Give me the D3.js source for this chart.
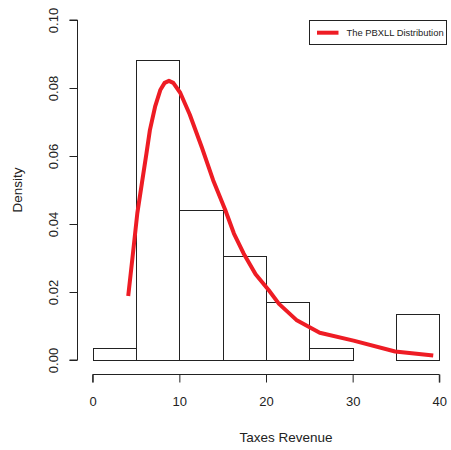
<!DOCTYPE html>
<html>
<head>
<meta charset="utf-8">
<script src="https://cdn.jsdelivr.net/npm/d3@7/dist/d3.min.js"></script>
<style>
  html, body { margin: 0; padding: 0; background: #fff; }
  svg { display: block; font-family: "Liberation Sans", Arial, sans-serif; }
</style>
</head>
<body>
<svg id="chart" width="451" height="450"></svg>
<script>
// Histogram of taxes revenue (bin width 5) with the fitted PBXLL density
const binEdges = [0, 5, 10, 15, 20, 25, 30, 35, 40];
const binCounts = [1, 26, 13, 9, 5, 1, 0, 4];
const totalCount = 59;

// Fitted PBXLL density evaluated at the sorted observations
const curveX = [4.1, 4.6, 5.15, 5.7, 6.2, 6.6, 7.2, 7.8, 8.3, 8.8, 9.3, 10.1, 11.2, 12.6, 13.9, 15.3, 16.3, 17.4, 18.8, 20.3, 21.5, 23.5, 26.2, 30.1, 34.9, 39.3];
const curveY = [0.0188, 0.0303, 0.0432, 0.0524, 0.0607, 0.0676, 0.0745, 0.0794, 0.0815, 0.0821, 0.0815, 0.0786, 0.0722, 0.0625, 0.0529, 0.0441, 0.0372, 0.0314, 0.0252, 0.0206, 0.0165, 0.0118, 0.0080, 0.0057, 0.0025, 0.0013];

const xTicks = [0, 10, 20, 30, 40];
const yTicks = [0, 0.02, 0.04, 0.06, 0.08, 0.10];
const legendLabel = "The PBXLL Distribution";
const xTitle = "Taxes Revenue";
const yTitle = "Density";

const svg = d3.select("#chart");
const ink = "#222";

const x = d3.scaleLinear().domain([0, 40]).range([92.7, 439.3]);
const y = d3.scaleLinear().domain([0, 0.1]).range([360, 20]);

const bins = binCounts.map((c, i) => ({
  x0: binEdges[i], x1: binEdges[i + 1], density: c / (totalCount * (binEdges[i + 1] - binEdges[i]))
}));

// bars
svg.append("g").selectAll("rect").data(bins).join("rect")
  .attr("x", d => x(d.x0) + 0.5)
  .attr("y", d => y(d.density) + 0.5)
  .attr("width", d => x(d.x1) - x(d.x0))
  .attr("height", d => y(0) - y(d.density))
  .attr("fill", "none")
  .attr("stroke", ink)
  .attr("stroke-width", 1)
  .style("shape-rendering", "crispEdges");

// density curve
const line = d3.line().x(d => x(d[0])).y(d => y(d[1]));
svg.append("path")
  .datum(curveX.map((v, i) => [v, curveY[i]]))
  .attr("d", line)
  .attr("fill", "none")
  .attr("stroke", "#ee1c24")
  .attr("stroke-width", 4)
  .attr("stroke-linejoin", "round");

// y axis (R-style, offset and rotated labels)
const yAxis = svg.append("g").attr("transform", "translate(77.5,0)")
  .call(d3.axisLeft(y).tickValues(yTicks).tickSize(8).tickFormat(d3.format(".2f")));
yAxis.select(".domain").attr("stroke", ink).attr("d", `M-8,${y(0)}H0V${y(0.1)}H-8`);
yAxis.selectAll(".tick line").attr("stroke", ink);
yAxis.selectAll(".tick text")
  .attr("x", null).attr("dy", null)
  .attr("transform", "translate(-20,0) rotate(-90)")
  .attr("text-anchor", "middle")
  .attr("font-size", 13)
  .attr("font-family", "Liberation Sans, Arial, sans-serif")
  .attr("fill", ink);

// x axis
const xAxis = svg.append("g").attr("transform", "translate(0,374.5)")
  .call(d3.axisBottom(x).tickValues(xTicks).tickSize(8).tickFormat(d3.format("d")));
xAxis.select(".domain").attr("stroke", ink).attr("d", `M${x(0)},8V0H${x(40)}V8`);
xAxis.selectAll(".tick line").attr("stroke", ink);
xAxis.selectAll(".tick text")
  .attr("y", 31.5).attr("dy", null)
  .attr("font-size", 13)
  .attr("font-family", "Liberation Sans, Arial, sans-serif")
  .attr("fill", ink);

// axis titles
svg.append("text")
  .attr("x", (x(0) + x(40)) / 2 + 20).attr("y", 441.5)
  .attr("text-anchor", "middle").attr("font-size", 13.5).attr("fill", ink)
  .text(xTitle);
svg.append("text")
  .attr("transform", `translate(22,190) rotate(-90)`)
  .attr("text-anchor", "middle").attr("font-size", 13.5).attr("fill", ink)
  .text(yTitle);

// legend
const lg = svg.append("g");
lg.append("rect").attr("x", 309.5).attr("y", 20.5).attr("width", 137).attr("height", 24)
  .attr("fill", "#fff").attr("stroke", ink).attr("stroke-width", 1);
lg.append("line").attr("x1", 317).attr("x2", 338.5).attr("y1", 32.7).attr("y2", 32.7)
  .attr("stroke", "#ee1c24").attr("stroke-width", 4);
lg.append("text").attr("x", 346.5).attr("y", 36)
  .attr("font-size", 9.4).attr("fill", ink).text(legendLabel);
</script>
</body>
</html>
